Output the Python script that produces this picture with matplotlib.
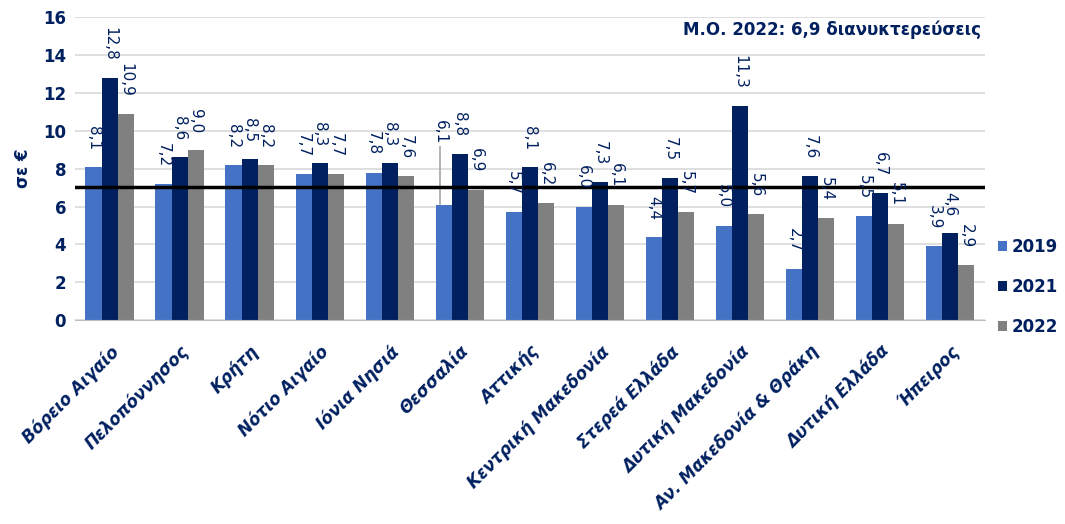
import matplotlib
matplotlib.use("Agg")
import matplotlib.pyplot as plt
import numpy as np

categories = ["Βόρειο Αιγαίο", "Πελοπόννησος", "Κρήτη", "Νότιο Αιγαίο", "Ιόνια Νησιά",
              "Θεσσαλία", "Αττικής", "Κεντρική Μακεδονία", "Στερεά Ελλάδα",
              "Δυτική Μακεδονία", "Αν. Μακεδονία & Θράκη", "Δυτική Ελλάδα", "Ήπειρος"]
v2019 = [8.1, 7.2, 8.2, 7.7, 7.8, 6.1, 5.7, 6.0, 4.4, 5.0, 2.7, 5.5, 3.9]
v2021 = [12.8, 8.6, 8.5, 8.3, 8.3, 8.8, 8.1, 7.3, 7.5, 11.3, 7.6, 6.7, 4.6]
v2022 = [10.9, 9.0, 8.2, 7.7, 7.6, 6.9, 6.2, 6.1, 5.7, 5.6, 5.4, 5.1, 2.9]
series_names = ["2019", "2021", "2022"]
avg_line = 7.05
title_text = "Μ.Ο. 2022: 6,9 διανυκτερεύσεις"
ylabel = "σε €"

colors = ["#4472C4", "#002060", "#808080"]
navy = "#002060"

# labels moved away from their bar (drawn with a leader line): (series, category) -> extra lift
leader_labels = {(0, 5): 2.3}

fig = plt.figure(figsize=(10.65, 5.24), dpi=100)
ax = fig.add_axes([0.070, 0.389, 0.855, 0.578])

x = np.arange(len(categories))
w = 0.23
for i, (vals, name, c) in enumerate(zip([v2019, v2021, v2022], series_names, colors)):
    pos = x + (i - 1) * w
    ax.bar(pos, vals, width=w, color=c, label=name, zorder=2)
    for j, (px, v) in enumerate(zip(pos, vals)):
        lift = leader_labels.get((i, j), 0.0)
        ax.text(px - (0.05 if lift else 0), v + 0.9 + lift, f"{v:.1f}".replace(".", ","),
                rotation=-90, ha="center", va="bottom", fontsize=11, color=navy, zorder=4)
        if lift:
            ax.plot([px - 0.05, px - 0.05], [v + 0.05, v + 0.75 + lift],
                    color="#A6A6A6", lw=1.2, zorder=3)

ax.axhline(avg_line, color="black", lw=2.5, zorder=3)

ax.set_xlim(-0.5, len(categories) - 0.5)
ax.set_ylim(0, 16)
ax.set_yticks(range(0, 17, 2))
ax.yaxis.grid(True, color="#D9D9D9", lw=1.2, zorder=0)
ax.set_axisbelow(True)
for s in ["top", "right", "left"]:
    ax.spines[s].set_visible(False)
ax.spines["bottom"].set_color("#BFBFBF")
ax.tick_params(axis="y", length=0, labelsize=12, labelcolor=navy, pad=6)
ax.tick_params(axis="x", length=0, pad=16)
for t in ax.get_yticklabels():
    t.set_fontweight("bold")
ax.set_xticks(x)
ax.set_xticklabels(categories, rotation=45, ha="right", rotation_mode="anchor",
                   fontsize=12, fontweight="bold", fontstyle="italic", color=navy)
ax.set_ylabel(ylabel, fontsize=12, fontweight="bold", color=navy, labelpad=8)

ax.text(0.995, 0.99, title_text, transform=ax.transAxes, ha="right", va="top",
        fontsize=12, fontweight="bold", color=navy)

leg = ax.legend(loc="center left", bbox_to_anchor=(1.014, 0.11), frameon=False,
                borderaxespad=0, borderpad=0,
                handlelength=0.55, handleheight=0.55, handletextpad=0.3,
                labelspacing=1.3, fontsize=12)
for t in leg.get_texts():
    t.set_color(navy)
    t.set_fontweight("bold")

fig.savefig("out.png", dpi=100)
